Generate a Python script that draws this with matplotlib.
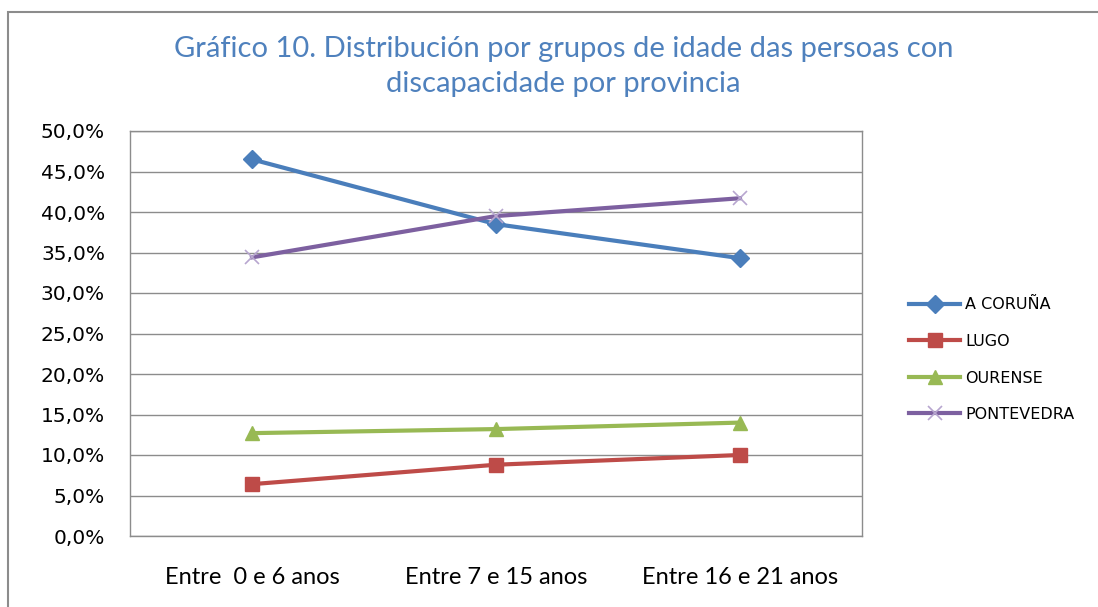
import matplotlib.pyplot as plt
from matplotlib.patches import Rectangle
from matplotlib.ticker import FuncFormatter

plt.rcParams['font.family'] = ['Lato', 'DejaVu Sans']

categorias = ["Entre  0 e 6 anos", "Entre 7 e 15 anos", "Entre 16 e 21 anos"]
a_coruna = [46.5, 38.5, 34.3]
lugo = [6.4, 8.8, 10.0]
ourense = [12.7, 13.2, 14.0]
pontevedra = [34.4, 39.5, 41.7]

series = [
    ("A CORUÑA", a_coruna, "#4A7EBB", "D", 9),
    ("LUGO", lugo, "#BE4B48", "s", 10),
    ("OURENSE", ourense, "#98B954", "^", 10),
    ("PONTEVEDRA", pontevedra, "#7D60A0", "x", 10),
]

fig = plt.figure(figsize=(10.98, 6.07), dpi=100)
ax = fig.add_axes([130 / 1098, 1 - 536 / 607, 732 / 1098, 405 / 607])

# marco exterior do gráfico
fig.patches.append(Rectangle((8 / 1098, -0.05), 1.1, 1 - 12 / 607 + 0.05,
                             transform=fig.transFigure, fill=False,
                             edgecolor="#8C8C8C", linewidth=1.5))

x = range(len(categorias))
for nome, vals, cor, mk, ms in series:
    kw = dict(color=cor, linewidth=3, marker=mk, markersize=ms, label=nome)
    if mk == "x":
        kw.update(markeredgewidth=1.2, markeredgecolor="#B7A6CF")
    ax.plot(x, vals, **kw)

ax.set_xlim(-0.5, 2.5)
ax.set_ylim(0, 50)
ax.set_yticks(range(0, 51, 5))
ax.yaxis.set_major_formatter(FuncFormatter(lambda v, p: f"{v:.1f}%".replace(".", ",")))
ax.set_xticks(list(x))
ax.set_xticklabels(categorias)
ax.tick_params(axis="both", length=0, colors="#000000")
ax.tick_params(axis="x", pad=22, labelsize=17)
ax.tick_params(axis="y", pad=18, labelsize=14.5, labelfontfamily="DejaVu Sans")
ax.grid(axis="y", color="#8C8C8C", linewidth=1)
ax.set_axisbelow(True)
for s in ax.spines.values():
    s.set_color("#8C8C8C")
    s.set_linewidth(1)

fig.text(0.513, 1 - 49 / 607, "Gráfico 10. Distribución por grupos de idade das persoas con",
         ha="center", va="center", fontsize=21, color="#4F81BD")
fig.text(0.513, 1 - 84 / 607, "discapacidade por provincia",
         ha="center", va="center", fontsize=21, color="#4F81BD")

leg = fig.legend(loc="upper left", bbox_to_anchor=(895 / 1098, 1 - 283 / 607),
                 frameon=False, prop={"family": "DejaVu Sans", "size": 11.5},
                 labelspacing=1.35, handlelength=3.2, handletextpad=0.3)

fig.savefig("out.png", dpi=100)
